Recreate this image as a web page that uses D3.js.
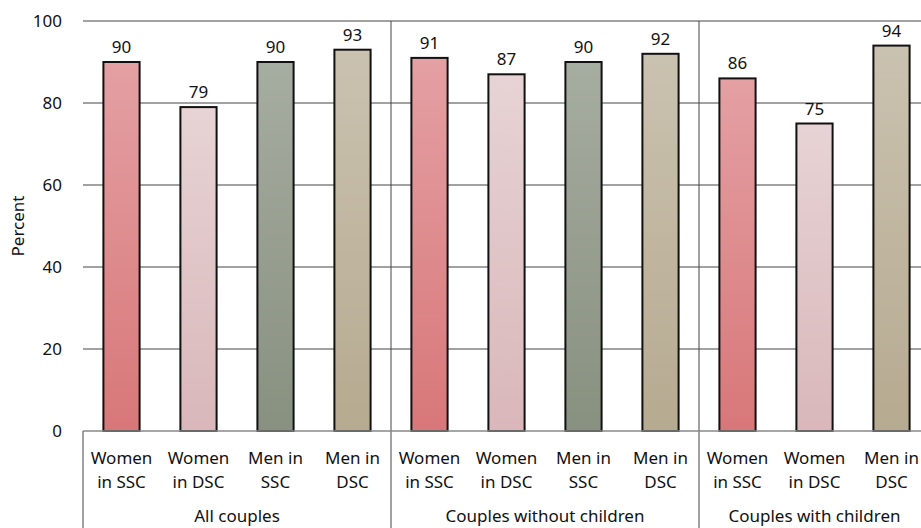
<!DOCTYPE html>
<html><head><meta charset="utf-8">
<script src="https://cdn.jsdelivr.net/npm/d3@7"></script>
<style>body{margin:0;background:#fff}svg{display:block}text{font-family:"Noto Sans",sans-serif;fill:#111}</style>
</head><body>
<svg id="c" width="921" height="528"></svg>
<script>
const groups = ["All couples", "Couples without children", "Couples with children"];
const categories = [
  {g:0, s:"wssc", label:["Women","in SSC"]},
  {g:0, s:"wdsc", label:["Women","in DSC"]},
  {g:0, s:"mssc", label:["Men in","SSC"]},
  {g:0, s:"mdsc", label:["Men in","DSC"]},
  {g:1, s:"wssc", label:["Women","in SSC"]},
  {g:1, s:"wdsc", label:["Women","in DSC"]},
  {g:1, s:"mssc", label:["Men in","SSC"]},
  {g:1, s:"mdsc", label:["Men in","DSC"]},
  {g:2, s:"wssc", label:["Women","in SSC"]},
  {g:2, s:"wdsc", label:["Women","in DSC"]},
  {g:2, s:"mdsc", label:["Men in","DSC"]}
];
const values = [90, 79, 90, 93, 91, 87, 90, 92, 86, 75, 94];
const yTicks = [0, 20, 40, 60, 80, 100];
const seriesColors = {
  wssc: ["#e4a0a3", "#d87779"],
  wdsc: ["#e7d3d5", "#d9b7ba"],
  mssc: ["#a6ada1", "#889080"],
  mdsc: ["#cac2b0", "#b6aa90"]
};

const svg = d3.select("#c");
const pLeft = 83, pRight = 930, pTop = 21, pBottom = 431;
const ids = categories.map((d,i)=>i);
const x = d3.scaleBand().domain(ids).range([pLeft, pRight]).paddingInner(0.53).paddingOuter(0.265);
const y = d3.scaleLinear().domain([0,100]).range([pBottom, pTop]);
const step = x.step(), bw = x.bandwidth();

const defs = svg.append("defs");
Object.entries(seriesColors).forEach(([k,c])=>{
  const g = defs.append("linearGradient").attr("id","g_"+k).attr("x1",0).attr("y1",0).attr("x2",0).attr("y2",1);
  g.append("stop").attr("offset","0%").attr("stop-color",c[0]);
  g.append("stop").attr("offset","100%").attr("stop-color",c[1]);
});

// gridlines
svg.append("g").selectAll("line").data(yTicks.filter(t=>t>0)).join("line")
  .attr("x1",pLeft).attr("x2",921).attr("y1",d=>y(d)).attr("y2",d=>y(d))
  .attr("stroke","#444").attr("stroke-width",1);

// y tick labels
svg.append("g").selectAll("text").data(yTicks).join("text")
  .attr("x",62).attr("y",d=>y(d)).attr("dy","0.35em").attr("text-anchor","end")
  .attr("font-size",17).text(d=>d);

svg.append("text").attr("transform",`translate(24,${(pTop+pBottom)/2}) rotate(-90)`)
  .attr("text-anchor","middle").attr("font-size",17).text("Percent");

// group separators
const groupStart = groups.map((g,gi)=>{
  const first = categories.findIndex(c=>c.g===gi);
  return x(first) - (step-bw)/2;
});
groupStart.forEach((gx,gi)=>{
  svg.append("line").attr("x1",gx).attr("x2",gx).attr("y1", gi===0 ? pBottom : pTop).attr("y2",528)
    .attr("stroke","#444").attr("stroke-width",1);
});

// bars
svg.append("g").selectAll("rect").data(categories).join("rect")
  .attr("x",(d,i)=>x(i)).attr("width",bw)
  .attr("y",(d,i)=>y(values[i])).attr("height",(d,i)=>y(0)-y(values[i]))
  .attr("fill",d=>`url(#g_${d.s})`).attr("stroke","#111").attr("stroke-width",2);

// baseline
svg.append("line").attr("x1",pLeft).attr("x2",921).attr("y1",pBottom).attr("y2",pBottom)
  .attr("stroke","#888").attr("stroke-width",1.5);

// value labels
svg.append("g").selectAll("text").data(values).join("text")
  .attr("x",(d,i)=>x(i)+bw/2).attr("y",d=>y(d)-9).attr("text-anchor","middle")
  .attr("font-size",17).text(d=>d);

// category labels
const cl = svg.append("g").selectAll("text").data(categories).join("text")
  .attr("text-anchor","middle").attr("font-size",17);
cl.append("tspan").attr("x",(d,i)=>x(i)+bw/2).attr("y",464).text(d=>d.label[0]);
cl.append("tspan").attr("x",(d,i)=>x(i)+bw/2).attr("y",488).text(d=>d.label[1]);

// group labels
svg.append("g").selectAll("text").data(groups).join("text")
  .attr("x",(d,gi)=>{
    const idx = ids.filter(i=>categories[i].g===gi);
    return groupStart[gi] + idx.length*step/2;
  })
  .attr("y",522).attr("text-anchor","middle").attr("font-size",17).text(d=>d);
</script>
</body></html>
